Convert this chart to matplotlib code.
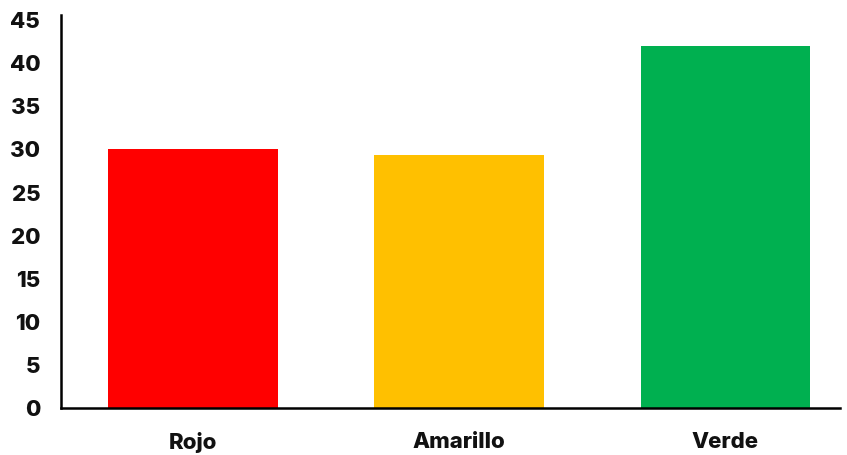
import matplotlib
matplotlib.use("Agg")
import matplotlib.pyplot as plt

categories = ["Rojo", "Amarillo", "Verde"]
values = [30, 29.3, 42]
colors = ["#FF0000", "#FFC000", "#00B050"]
yticks = [0, 5, 10, 15, 20, 25, 30, 35, 40, 45]

plt.rcParams['font.family'] = ['Inter', 'DejaVu Sans']

W, H = 847, 455
fig = plt.figure(figsize=(W/100, H/100), dpi=100)
left, right, top, bottom = 61, 840, 15, 408
ax = fig.add_axes([left/W, (H-bottom)/H, (right-left)/W, (bottom-top)/H])

x = range(len(categories))
ax.bar(x, values, width=0.638, color=colors, zorder=2)
ax.set_xlim(-0.495, 2.43)
ax.set_ylim(0, 45.6)
ax.set_yticks(yticks)
ax.set_xticks(list(x))
ax.set_xticklabels(categories)
for s in ["top", "right"]:
    ax.spines[s].set_visible(False)
for s in ["left", "bottom"]:
    ax.spines[s].set_linewidth(1.8)
    ax.spines[s].set_color("black")
ax.tick_params(axis="both", length=0, labelsize=16)
ax.tick_params(axis="y", pad=15)
ax.tick_params(axis="x", pad=17)
for lab in ax.get_xticklabels() + ax.get_yticklabels():
    lab.set_fontweight("heavy")
    lab.set_color("#111111")

fig.savefig("out.png", dpi=100)
